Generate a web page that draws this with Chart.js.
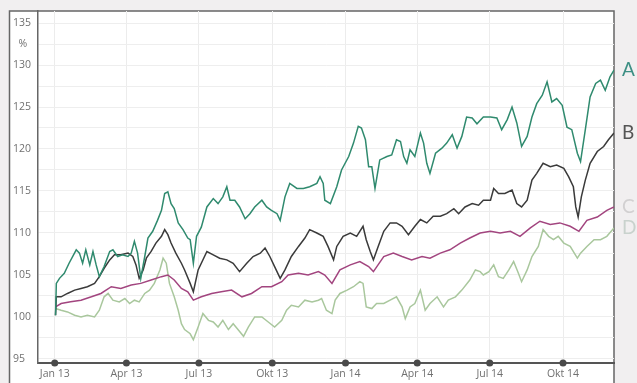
<!DOCTYPE html>
<html>
<head>
<meta charset="utf-8">
<script src="https://cdn.jsdelivr.net/npm/chart.js@4"></script>
<style>
  html, body { margin: 0; padding: 0; background: #f1eff0; }
  #wrap { width: 637px; height: 383px; }
</style>
</head>
<body>
<div id="wrap"><canvas id="perfChart" width="637" height="383"></canvas></div>
<script>
// x values are days since 1 Jan 2013
var xTickDays = [0, 90, 181, 273, 365, 455, 546, 638];
var xTickLabels = ['Jan 13', 'Apr 13', 'Jul 13', 'Okt 13', 'Jan 14', 'Apr 14', 'Jul 14', 'Okt 14'];
var yTicks = [95, 97.5, 100, 102.5, 105, 107.5, 110, 112.5, 115, 117.5, 120, 122.5, 125, 127.5, 130, 132.5, 135];
var seriesNames = ['A', 'B', 'C', 'D'];

var aDays = [1, 2, 6, 12, 18, 27, 31, 35, 39, 44, 48, 52, 56, 62, 69, 73, 79, 85, 92, 96, 100, 104, 108, 113, 117, 123, 129, 134, 138, 142, 146, 150, 155, 161, 167, 170, 174, 178, 184, 191, 199, 205, 211, 216, 220, 226, 232, 239, 245, 251, 260, 266, 272, 279, 283, 289, 295, 304, 312, 320, 329, 333, 337, 339, 346, 354, 360, 369, 375, 381, 385, 390, 394, 398, 402, 408, 417, 423, 429, 434, 438, 442, 446, 452, 459, 463, 467, 471, 478, 486, 492, 499, 505, 511, 517, 524, 530, 538, 547, 555, 561, 568, 574, 580, 586, 593, 599, 605, 612, 618, 624, 630, 637, 643, 649, 656, 660, 666, 672, 679, 685, 691, 697, 702];
var aVals = [100.2, 104.0, 104.6, 105.2, 106.4, 108.0, 107.6, 106.4, 108.0, 106.2, 107.8, 106.2, 104.8, 106.0, 107.8, 108.0, 107.2, 107.4, 107.2, 107.6, 109.0, 107.6, 104.6, 107.2, 109.4, 110.2, 111.5, 112.7, 114.7, 114.9, 113.5, 112.9, 111.2, 110.4, 109.4, 109.2, 106.4, 109.6, 110.7, 113.1, 114.1, 113.5, 114.3, 115.5, 113.9, 113.9, 113.1, 111.7, 112.3, 113.1, 113.9, 113.1, 112.7, 112.3, 111.5, 114.3, 115.9, 115.3, 115.3, 115.5, 115.9, 116.7, 115.9, 113.9, 113.5, 115.5, 117.5, 119.1, 120.7, 122.7, 122.5, 121.1, 117.9, 117.9, 115.3, 118.7, 119.1, 119.3, 121.1, 120.9, 119.1, 118.3, 119.9, 119.1, 121.9, 120.7, 118.3, 117.1, 119.5, 120.1, 120.7, 121.7, 120.1, 121.5, 123.8, 123.7, 123.0, 123.8, 123.8, 123.7, 122.3, 123.5, 125.0, 123.1, 120.3, 121.5, 123.8, 125.4, 126.4, 128.0, 125.6, 126.0, 125.2, 122.6, 122.3, 119.5, 118.5, 122.3, 126.2, 127.8, 128.2, 127.0, 128.6, 129.4];

var bDays = [1, 2, 8, 16, 25, 33, 41, 50, 56, 62, 69, 75, 83, 92, 98, 102, 106, 111, 115, 121, 127, 134, 138, 142, 146, 152, 159, 163, 170, 174, 180, 191, 199, 207, 216, 224, 232, 241, 249, 258, 264, 270, 276, 283, 289, 297, 306, 314, 320, 329, 337, 343, 350, 354, 362, 371, 379, 387, 391, 396, 400, 406, 413, 421, 429, 436, 444, 452, 459, 467, 475, 484, 492, 501, 507, 515, 524, 532, 538, 547, 551, 557, 565, 574, 580, 586, 593, 599, 605, 613, 622, 630, 639, 645, 651, 654, 657, 661, 666, 672, 681, 689, 695, 702];
var bVals = [100.2, 102.4, 102.4, 102.8, 103.2, 103.4, 103.6, 104.0, 104.8, 105.8, 106.8, 107.4, 107.4, 107.6, 107.2, 106.2, 104.6, 105.6, 107.0, 107.8, 108.8, 109.6, 110.4, 109.8, 108.8, 107.6, 106.4, 105.6, 104.0, 103.0, 105.6, 107.8, 107.4, 107.0, 106.8, 106.4, 105.4, 106.4, 107.2, 107.6, 108.2, 107.2, 106.0, 104.6, 105.6, 107.2, 108.4, 109.4, 110.4, 110.0, 109.6, 108.4, 106.8, 108.4, 109.6, 110.0, 109.6, 110.8, 109.2, 107.8, 106.8, 108.4, 110.2, 111.2, 111.2, 110.8, 109.8, 110.8, 111.6, 111.2, 112.0, 112.0, 112.3, 112.9, 112.3, 113.1, 113.5, 113.3, 113.9, 113.9, 115.3, 114.7, 114.7, 115.1, 113.5, 113.1, 113.9, 116.3, 117.1, 118.3, 117.9, 118.1, 117.7, 116.7, 115.5, 113.1, 111.9, 114.3, 116.3, 118.3, 119.7, 120.3, 121.1, 121.9];

var cDays = [1, 8, 20, 33, 46, 58, 71, 83, 96, 108, 121, 134, 142, 150, 159, 167, 174, 184, 197, 209, 222, 235, 247, 260, 272, 285, 293, 306, 318, 331, 339, 348, 358, 371, 383, 394, 400, 413, 425, 436, 448, 461, 471, 484, 496, 509, 521, 534, 547, 559, 572, 584, 597, 609, 622, 634, 647, 658, 668, 681, 693, 702];
var cVals = [101.2, 101.6, 101.8, 102.0, 102.4, 102.8, 103.6, 103.4, 103.8, 104.0, 104.4, 104.8, 105.0, 104.4, 103.4, 103.0, 102.0, 102.4, 102.8, 103.0, 103.2, 102.4, 102.8, 103.6, 103.6, 104.2, 105.0, 105.2, 105.0, 105.4, 105.0, 104.0, 105.6, 106.2, 106.6, 106.0, 105.4, 107.2, 107.6, 107.2, 106.8, 107.2, 107.0, 107.6, 108.0, 108.8, 109.4, 110.0, 110.2, 110.0, 110.2, 109.6, 110.6, 111.4, 111.0, 111.2, 110.8, 110.2, 111.5, 111.9, 112.7, 113.1];

var dDays = [1, 8, 16, 25, 33, 41, 50, 56, 62, 67, 73, 81, 88, 94, 100, 106, 113, 119, 125, 132, 136, 140, 144, 150, 155, 159, 163, 170, 174, 180, 186, 193, 199, 205, 211, 218, 224, 230, 237, 243, 251, 260, 268, 276, 285, 291, 297, 306, 314, 323, 331, 335, 341, 348, 352, 358, 367, 375, 383, 387, 391, 398, 404, 413, 421, 429, 436, 440, 446, 452, 459, 465, 471, 480, 488, 494, 503, 511, 521, 528, 534, 538, 545, 551, 557, 563, 570, 576, 582, 586, 593, 599, 607, 613, 620, 626, 632, 639, 647, 656, 660, 668, 677, 685, 693, 702];
var dVals = [101.0, 100.8, 100.6, 100.2, 100.0, 100.2, 100.0, 100.8, 102.4, 102.8, 102.0, 101.8, 102.2, 101.6, 102.0, 101.8, 102.8, 103.2, 104.0, 105.6, 107.0, 106.4, 104.0, 102.4, 100.8, 99.2, 98.5, 98.0, 97.3, 98.8, 100.4, 99.6, 99.4, 98.8, 99.6, 98.5, 99.2, 98.5, 97.7, 98.8, 100.0, 100.0, 99.4, 98.8, 99.6, 100.8, 101.4, 101.2, 102.0, 101.8, 102.0, 102.2, 100.8, 100.4, 102.0, 102.8, 103.2, 103.6, 104.2, 104.0, 101.2, 101.0, 101.6, 101.6, 102.0, 102.4, 101.2, 99.8, 101.2, 101.6, 103.2, 100.8, 101.6, 102.4, 101.2, 102.0, 102.4, 103.2, 104.4, 105.6, 105.4, 105.0, 105.4, 106.2, 104.8, 104.6, 105.6, 106.6, 105.2, 104.2, 105.6, 107.2, 108.4, 110.4, 109.6, 109.2, 109.6, 108.8, 108.4, 107.0, 107.6, 108.4, 109.2, 109.2, 109.6, 110.6];

var lineColors = ['#2f8a6e', '#3a3a3a', '#a2457f', '#a9c79d'];
var labelColors = ['#3d8f84', '#555555', '#d2d0d1', '#c9d2cd'];

function toPoints(days, vals) {
    return days.map(function (d, i) { return { x: d, y: vals[i] }; });
}

// frame, axis dots and end labels
var framePlugin = {
    id: 'frame',
    beforeDraw: function (chart) {
        var ctx = chart.ctx;
        var area = chart.chartArea;
        ctx.save();
        ctx.fillStyle = '#f1eff0';
        ctx.fillRect(0, 0, chart.width, chart.height);
        ctx.fillStyle = '#ffffff';
        ctx.fillRect(9, 11, area.right - 9, chart.height - 11);
        ctx.strokeStyle = '#666666';
        ctx.lineWidth = 1.5;
        ctx.beginPath();
        ctx.moveTo(9.5, chart.height);
        ctx.lineTo(9.5, 11);
        ctx.lineTo(area.right, 11);
        ctx.lineTo(area.right, chart.height);
        ctx.stroke();
        ctx.restore();
    },
    afterDraw: function (chart) {
        var ctx = chart.ctx;
        var xs = chart.scales.x;
        var ys = chart.scales.y;
        var area = chart.chartArea;
        ctx.save();
        ctx.fillStyle = '#4a4a4a';
        xTickDays.forEach(function (d) {
            ctx.beginPath();
            ctx.arc(xs.getPixelForValue(d), area.bottom, 3.5, 0, Math.PI * 2);
            ctx.fill();
        });
        ctx.font = '19px Lato, "Open Sans", sans-serif';
        ctx.textBaseline = 'middle';
        ctx.textAlign = 'left';
        var lastVals = [aVals, bVals, cVals, dVals].map(function (v) { return v[v.length - 1]; });
        seriesNames.forEach(function (name, i) {
            ctx.fillStyle = labelColors[i];
            ctx.fillText(name, area.right + 8, ys.getPixelForValue(lastVals[i]));
        });
        ctx.restore();
    }
};

var chart = new Chart(document.getElementById('perfChart').getContext('2d'), {
    type: 'line',
    data: {
        datasets: [
            { label: 'A', data: toPoints(aDays, aVals), borderColor: lineColors[0] },
            { label: 'B', data: toPoints(bDays, bVals), borderColor: lineColors[1] },
            { label: 'C', data: toPoints(cDays, cVals), borderColor: lineColors[2] },
            { label: 'D', data: toPoints(dDays, dVals), borderColor: lineColors[3] }
        ]
    },
    options: {
        responsive: false,
        animation: false,
        events: [],
        elements: {
            point: { radius: 0 },
            line: { borderWidth: 1.5, tension: 0, fill: false }
        },
        layout: { padding: { left: 13, right: 23, top: 11, bottom: 0 } },
        plugins: { legend: { display: false }, tooltip: { enabled: false } },
        scales: {
            x: {
                type: 'linear',
                min: -21,
                max: 702,
                afterBuildTicks: function (scale) {
                    scale.ticks = xTickDays.map(function (d) { return { value: d }; });
                },
                afterFit: function (scale) { scale.height = 20; },
                ticks: {
                    autoSkip: false,
                    maxRotation: 0,
                    padding: 5,
                    color: '#707070',
                    font: { family: '"Open Sans", sans-serif', size: 10.5 },
                    callback: function (value, index) { return xTickLabels[index]; }
                },
                grid: { color: '#ececec', lineWidth: 1, drawTicks: false },
                border: { color: '#555555', width: 2 }
            },
            y: {
                min: 94.52,
                max: 136.43,
                afterBuildTicks: function (scale) {
                    scale.ticks = yTicks.map(function (v) { return { value: v }; });
                },
                afterFit: function (scale) { scale.width = 25; },
                ticks: {
                    autoSkip: false,
                    crossAlign: 'far',
                    color: '#707070',
                    font: { family: '"Open Sans", sans-serif', size: 10.5 },
                    callback: function (value) {
                        if (value === 132.5) return '  %';
                        return value % 5 === 0 ? String(value) : '';
                    }
                },
                grid: { color: '#eeeeee', lineWidth: 1, drawTicks: false },
                border: { color: '#666666', width: 1.5 }
            }
        }
    },
    plugins: [framePlugin]
});
</script>
</body>
</html>
